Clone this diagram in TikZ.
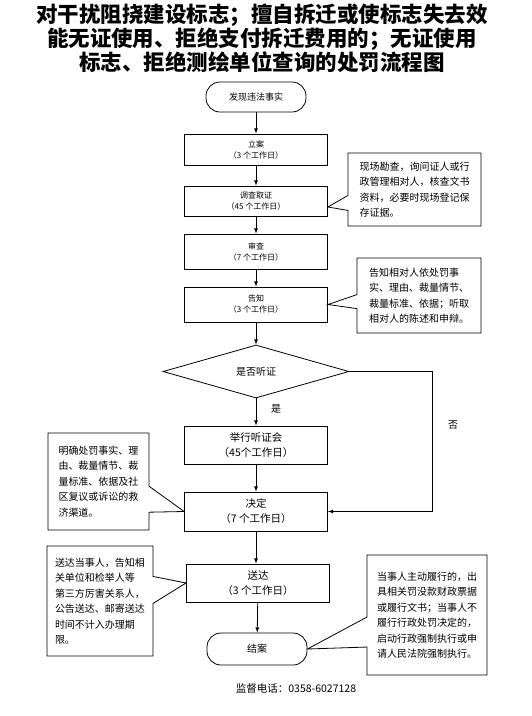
\documentclass[tikz,border=0pt]{standalone}
\usepackage{fontspec}
\setmainfont{Noto Sans CJK SC}
\usetikzlibrary{arrows,shapes.geometric,shapes.callouts}

\begin{document}
\begin{tikzpicture}[x=1pt,y=-1pt,
  box/.style={draw,line width=0.8pt,minimum width=143pt,align=center,inner sep=1pt,
    font=\fontsize{8}{11}\selectfont},
  bigbox/.style={box,font=\fontsize{10.5}{15}\selectfont},
  term/.style={draw,line width=0.8pt,rounded corners=14pt,minimum width=100pt,minimum height=30pt,
    font=\fontsize{9}{11}\selectfont},
  note/.style={rectangle callout,draw,line width=0.8pt,align=left,inner sep=0pt,
    font=\fontsize{10}{15.5}\selectfont},
  line/.style={-latex,line width=0.8pt}]

\useasboundingbox (0,0) rectangle (532,716);

\node[align=center,font=\fontsize{21.5}{24}\bfseries] (title) at (262,38)
  {对干扰阻挠建设标志；擅自拆迁或使标志失去效\\能无证使用、拒绝支付拆迁费用的；无证使用\\标志、拒绝测绘单位查询的处罚流程图};

\node[term] (fx) at (256,97) {发现违法事实};
\node[box,minimum height=31pt] (la) at (256,149.5) {立案\\（3 个工作日）};
\node[box,minimum height=30pt] (dc) at (256,201) {调查取证\\（45 个工作日）};
\node[box,minimum height=35pt] (sc) at (256,251.5) {审查\\（7 个工作日）};
\node[box,minimum height=35pt] (gz) at (256,304.5) {告知\\（3 个工作日）};
\node[diamond,draw,line width=0.8pt,inner sep=0pt,minimum width=186pt,minimum height=53pt,
  font=\fontsize{10}{12}\selectfont] (tz) at (256,371.5) {是否听证};
\node[bigbox,minimum height=38pt] (jx) at (256,445) {举行听证会\\（45个工作日）};
\node[bigbox,minimum height=39pt] (jd) at (256,511.5) {决定\\（7 个工作日）};
\node[bigbox,minimum height=38pt] (sd) at (258,583) {送达\\（3 个工作日）};
\node[term,minimum height=32pt,font=\fontsize{10}{12}\selectfont] (ja) at (257,649) {结案};

\node[note,minimum width=133pt,minimum height=73pt,callout pointer width=15pt,
  callout absolute pointer={([yshift=-6pt]dc.east)}] (c1) at (414.5,189.5)
  {现场勘查，询问证人或行\\政管理相对人，核查文书\\资料，必要时现场登记保\\存证据。};
\node[note,minimum width=124pt,minimum height=75pt,callout pointer width=14pt,
  callout absolute pointer={(gz.east)}] (c2) at (419,295.5)
  {告知相对人依处罚事\\实、理由、裁量情节、\\裁量标准、依据；听取\\相对人的陈述和申辩。};
\node[note,minimum width=101pt,minimum height=97pt,callout pointer width=26pt,
  callout absolute pointer={(jd.west)}] (c3) at (98.5,481.5)
  {明确处罚事实、理\\由、裁量情节、裁\\量标准、依据及社\\区复议或诉讼的救\\济渠道。};
\node[note,minimum width=106pt,minimum height=110pt,callout pointer width=27pt,
  callout absolute pointer={(sd.west)}] (c4) at (100,601)
  {送达当事人，告知相\\关单位和检举人等\\第三方厉害关系人，\\公告送达、邮寄送达\\时间不计入办理期\\限。};
\node[note,minimum width=120pt,minimum height=120pt,callout pointer width=30pt,
  callout absolute pointer={(ja.east)}] (c5) at (427,615)
  {当事人主动履行的，出\\具相关罚没款财政票据\\或履行文书；当事人不\\履行行政处罚决定的，\\启动行政强制执行或申\\请人民法院强制执行。};

\node[font=\fontsize{10}{12}\selectfont] (yes) at (276,409) {是};
\node[font=\fontsize{10}{12}\selectfont] (no) at (453,425) {否};
\node[font=\fontsize{10.5}{12}\selectfont] (tel) at (296,688) {监督电话：0358-6027128};

\coordinate (turn) at (432,371.5);

\draw[line] (fx) -- (la);
\draw[line] (la) -- (dc);
\draw[line] (dc) -- (sc);
\draw[line] (sc) -- (gz);
\draw[line] (gz) -- (tz);
\draw[line] (tz) -- (jx);
\draw[line] (jx) -- (jd);
\draw[line] (jd) -- (jd|-sd.north);
\draw[line] (sd) -- (ja);
\draw[line] (tz.east) -- (turn) |- (jd.east);
\end{tikzpicture}
\end{document}
